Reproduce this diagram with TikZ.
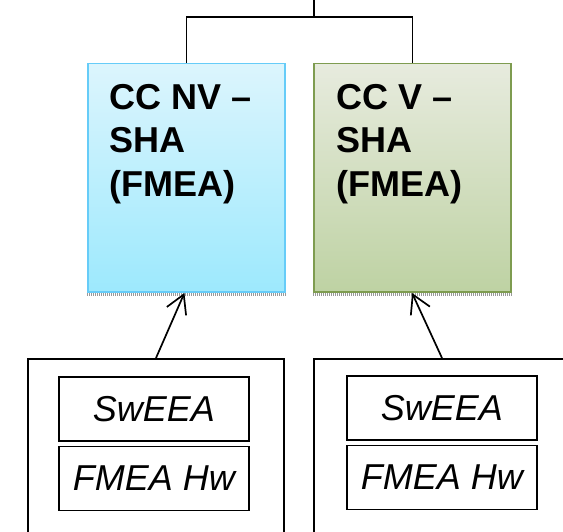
\documentclass[tikz,border=0pt]{standalone}
\usepackage{fontspec}
\setmainfont{Liberation Sans}
\usetikzlibrary{calc}

\definecolor{nvtop}{HTML}{DCF5FD}
\definecolor{nvbot}{HTML}{9DE9FD}
\definecolor{nvline}{HTML}{66CCF8}
\definecolor{vtop}{HTML}{E7EBDE}
\definecolor{vbot}{HTML}{BED2A3}
\definecolor{vline}{HTML}{7E9C50}

\tikzset{
  ccbox/.style={draw, line width=1.5pt, minimum width=197pt, minimum height=228pt,
    anchor=north west, inner sep=0pt},
  cclabel/.style={anchor=north west, inner sep=0pt, align=left,
    font=\fontsize{36}{43.5}\selectfont\bfseries},
  outerbox/.style={draw, line width=2pt, minimum width=256pt, minimum height=200pt,
    anchor=north west, inner sep=0pt},
  itembox/.style={draw, line width=1.6pt, minimum width=190pt, minimum height=64pt,
    anchor=north west, inner sep=0pt, font=\fontsize{36}{40}\selectfont\itshape},
  link/.style={line width=1.5pt},
  feed/.style={line width=1.7pt, line join=miter},
  shadowline/.style={draw=gray!80, line width=2.5pt, dash pattern=on 1pt off 1pt}
}

\begin{document}
\begin{tikzpicture}[x=1pt,y=-1pt]
  \useasboundingbox (0,0) rectangle (563,532);
  \clip (0,0) rectangle (563,532);

  % two analysis blocks
  \node[ccbox, draw=nvline, top color=nvtop, bottom color=nvbot] (nv) at (87,63) {};
  \node[ccbox, draw=vline, top color=vtop, bottom color=vbot] (v) at (313,63) {};
  \draw[shadowline] ($(nv.south west)+(0,2)$) -- ($(nv.south east)+(0,2)$);
  \draw[shadowline] ($(v.south west)+(0,2)$) -- ($(v.south east)+(0,2)$);

  \node[cclabel] (nvtext) at (109,84) {CC NV –\\SHA\\(FMEA)};
  \node[cclabel] (vtext) at (336,84) {CC V –\\SHA\\(FMEA)};

  % branch from the parent above
  \coordinate (root) at (314,-2);
  \coordinate (bus) at (314,17);
  \draw[link] (nv.north) |- (bus) -| (v.north);
  \draw[line width=2.6pt] (root) -- (bus);

  % lower groups
  \node[outerbox] (grpL) at (27,358) {};
  \node[outerbox] (grpR) at (313,358) {};

  \node[itembox] (swL) at (58,376) {SwEEA};
  \node[itembox] (hwL) at (58,445.5) {FMEA Hw};
  \node[itembox] (swR) at (346,375) {SwEEA};
  \node[itembox] (hwR) at (346,444.5) {FMEA Hw};

  % feeds into the analysis blocks, with open barbed heads
  \coordinate (inL) at ($(nv.south)+(-2.5,2)$);
  \coordinate (inR) at ($(v.south)+(0.5,2)$);
  \draw[feed] (grpL.north) -- (inL);
  \draw[feed] ($(inL)!21pt!30:(grpL.north)$) -- (inL) -- ($(inL)!21pt!-30:(grpL.north)$);
  \draw[feed] (grpR.north) -- (inR);
  \draw[feed] ($(inR)!21pt!30:(grpR.north)$) -- (inR) -- ($(inR)!21pt!-30:(grpR.north)$);
\end{tikzpicture}
\end{document}
